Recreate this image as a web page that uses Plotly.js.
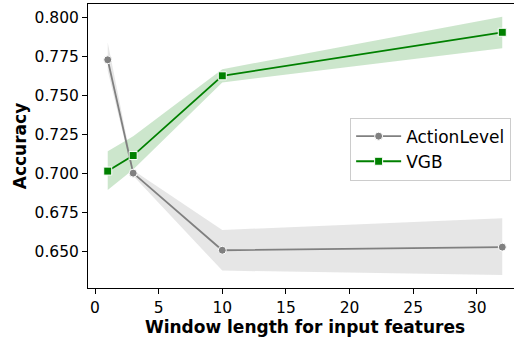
<!DOCTYPE html>
<html>
<head>
<meta charset="utf-8">
<script src="https://cdn.plot.ly/plotly-3.0.1.min.js"></script>
<style>
html,body{margin:0;padding:0;overflow:hidden;background:#fff;width:514px;height:337px;}
#chart{width:530px;height:337px;}
</style>
</head>
<body>
<div id="chart"></div>
<script>
const windowLengths = [1, 3, 10, 32];

const actionLevelMean  = [0.7731, 0.7002, 0.6506, 0.6526];
const actionLevelLower = [0.7660, 0.6985, 0.6375, 0.6346];
const actionLevelUpper = [0.7842, 0.7020, 0.6636, 0.6712];

const vgbMean  = [0.7015, 0.7115, 0.7628, 0.7908];
const vgbLower = [0.6893, 0.7025, 0.7585, 0.7806];
const vgbUpper = [0.7142, 0.7239, 0.7671, 0.8008];

const seriesNames = ['ActionLevel', 'VGB'];

function band(x, lo, hi, color) {
  return {
    x: x.concat(x.slice().reverse()),
    y: hi.concat(lo.slice().reverse()),
    type: 'scatter', mode: 'lines', fill: 'toself',
    fillcolor: color, line: {width: 0, color: 'rgba(0,0,0,0)'},
    hoverinfo: 'skip', showlegend: false
  };
}

const traces = [
  band(windowLengths, actionLevelLower, actionLevelUpper, 'rgba(128,128,128,0.2)'),
  band(windowLengths, vgbLower, vgbUpper, 'rgba(0,128,0,0.2)'),
  {
    x: windowLengths, y: actionLevelMean, name: seriesNames[0],
    type: 'scatter', mode: 'lines+markers',
    line: {color: '#808080', width: 1.8},
    marker: {symbol: 'circle', size: 8, color: '#808080', line: {color: '#ffffff', width: 1}}
  },
  {
    x: windowLengths, y: vgbMean, name: seriesNames[1],
    type: 'scatter', mode: 'lines+markers',
    line: {color: '#008000', width: 1.8},
    marker: {symbol: 'square', size: 8, color: '#008000', line: {color: '#ffffff', width: 1}}
  }
];

const font = 'DejaVu Sans, sans-serif';
const layout = {
  width: 530, height: 337,
  margin: {l: 88, r: 8, t: 4, b: 49},
  paper_bgcolor: '#ffffff', plot_bgcolor: '#ffffff',
  font: {family: font, size: 15.5, color: '#000000'},
  showlegend: true,
  legend: {
    x: 0.604, y: 0.60, xanchor: 'left', yanchor: 'top',
    bgcolor: 'rgba(255,255,255,0.8)', bordercolor: '#cccccc', borderwidth: 1,
    font: {family: font, size: 17, color: '#000000'},
    itemwidth: 45, tracegroupgap: 2
  },
  xaxis: {
    range: [-0.55, 33.55],
    tickvals: [0, 5, 10, 15, 20, 25, 30],
    ticks: 'outside', ticklen: 5, tickwidth: 1, tickcolor: '#000',
    showgrid: false, zeroline: false,
    showline: true, linecolor: '#000', linewidth: 1, mirror: true,
    tickfont: {family: font, size: 15.5, color: '#000'},
    title: {text: '<b>Window length for input features</b>', font: {family: font, size: 17, color: '#000'}, standoff: 4}
  },
  yaxis: {
    range: [0.6263, 0.809],
    tickvals: [0.65, 0.675, 0.70, 0.725, 0.75, 0.775, 0.80],
    tickformat: '.3f',
    ticks: 'outside', ticklen: 5, tickwidth: 1, tickcolor: '#000',
    showgrid: false, zeroline: false,
    showline: true, linecolor: '#000', linewidth: 1, mirror: true,
    tickfont: {family: font, size: 15.5, color: '#000'},
    title: {text: '<b>Accuracy</b>', font: {family: font, size: 17, color: '#000'}, standoff: 3}
  }
};

Plotly.newPlot('chart', traces, layout, {displayModeBar: false, staticPlot: true});
</script>
</body>
</html>
